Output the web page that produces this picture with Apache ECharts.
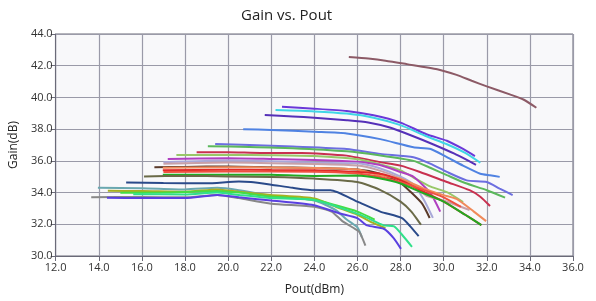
<!DOCTYPE html>
<html><head><meta charset="utf-8">
<script src="https://cdn.jsdelivr.net/npm/echarts@6/dist/echarts.min.js"></script>
<style>html,body{margin:0;padding:0;background:#fff}#c{width:596px;height:301px}</style>
</head><body><div id="c"></div>
<script>
// Axis ticks
const xTicks = [12,14,16,18,20,22,24,26,28,30,32,34,36];
const yTicks = [30,32,34,36,38,40,42,44];

// Curves: [Pout(dBm), Gain(dB)]
const s01 = [[25.6,42.55],[26.5,42.45],[27.3,42.32],[28.3,42.1],[29.7,41.78],[30.6,41.42],[31.3,41.05],[32.0,40.7],[33.1,40.18],[33.7,39.87],[34.3,39.35]];
const s02 = [[22.5,39.41],[24,39.29],[25.5,39.14],[26.75,38.87],[28,38.41],[29.2,37.68],[30.15,37.27],[30.9,36.75],[31.45,36.3]];
const s03 = [[22.2,39.2],[24,39.12],[25.5,38.98],[26.75,38.72],[28,38.25],[29.2,37.55],[30.15,37.05],[31,36.5],[31.7,35.88]];
const s04 = [[21.7,38.89],[23,38.8],[24,38.72],[25.5,38.56],[26.5,38.42],[27.5,38.1],[28.5,37.6],[29.5,37.05],[30.5,36.45],[31.5,35.75]];
const s05 = [[20.7,38.0],[22,37.95],[24,37.83],[25.5,37.73],[27.06,37.37],[28.6,36.86],[29.4,36.75],[30.15,36.23],[30.9,35.7],[31.7,35.19],[32.15,35.09],[32.6,34.99]];
const s06 = [[19.4,37.06],[21,37.0],[23,36.9],[25.5,36.75],[27.06,36.44],[28.6,36.23],[29.4,35.81],[30.15,35.3],[31.07,34.77],[32.0,34.67],[32.6,34.25],[33.2,33.84]];
const s07 = [[19.06,36.92],[21,36.88],[23,36.8],[25.5,36.6],[27,36.35],[28.6,36.0],[29.4,35.55],[30.15,35.1],[31,34.6],[32,34.15],[32.85,33.68]];
const s08 = [[18.54,36.54],[20,36.55],[21.5,36.5],[23.4,36.5],[25.5,36.33],[27.06,35.92],[28,35.7],[28.9,35.3],[30.15,34.67],[31.2,34.15],[31.7,33.74],[32.15,33.15]];
const s09 = [[17.6,36.37],[20,36.37],[22,36.35],[24,36.3],[26,36.1],[27,35.8],[28,35.4],[28.6,34.95],[29.4,34.37],[30.2,34.0],[30.9,33.4]];
const s10 = [[17.2,36.12],[20,36.17],[22,36.12],[24,36.06],[26,35.95],[27,35.75],[28,35.3],[28.6,35.0],[29.4,33.94],[29.84,32.8]];
const s11 = [[17.0,35.92],[20,36.02],[22,35.98],[24,35.88],[26,35.85],[27,35.55],[28,35.0],[28.6,34.5],[29.1,33.5],[29.5,32.4]];
const s12 = [[17.0,35.81],[20,35.9],[24,35.8],[26,35.7],[27,35.4],[28,34.9],[28.6,34.4],[29.2,33.8],[30,33.5],[30.6,33.2],[31.2,32.9]];
const s13 = [[16.58,35.6],[18,35.62],[20,35.65],[22,35.6],[24,35.55],[26,35.45],[27,35.2],[28,34.6],[28.5,34.0],[29,33.3],[29.35,32.4]];
const s14 = [[16.97,35.56],[20,35.6],[22,35.58],[24,35.55],[26,35.45],[27,35.1],[28,34.88],[29,34.3],[30,33.84],[30.6,33.6],[31.4,32.8],[31.97,32.2]];
const s15 = [[16.97,35.4],[20,35.44],[22,35.42],[24,35.4],[26,35.3],[27,35.2],[28,34.78],[29,34.1],[30,33.43],[31,32.6],[31.75,31.95]];
const s16 = [[17.0,35.3],[20,35.33],[24,35.32],[26,35.2],[27,35.0],[28,34.65],[29,34.2],[30,33.7],[30.8,33.1]];
const s17 = [[16.97,35.13],[20,35.13],[22,35.12],[24,35.05],[26,35.08],[27,34.9],[28,34.57],[29,34.0],[30,33.43],[31,32.6],[31.75,31.95]];
const s18 = [[16.1,35.02],[18,35.05],[20,35.02],[22,34.98],[24,34.88],[26,34.67],[27,34.2],[28,33.43],[28.5,32.8],[28.95,31.97]];
const s19 = [[15.27,34.63],[17,34.6],[19,34.58],[20.5,34.7],[21.06,34.67],[22,34.5],[23,34.3],[24,34.15],[24.75,34.15],[26,33.43],[27.06,32.8],[28.07,32.39],[28.45,31.87],[28.84,31.25]];
const s20 = [[13.96,34.3],[16,34.28],[18,34.2],[19.5,34.3],[20.5,34.15],[22,33.8],[24,33.5],[25,32.9],[25.5,32.3],[26,31.8],[26.2,31.2]];
const s21 = [[14.42,34.11],[16,34.1],[18,34.05],[19.5,34.2],[20.5,34.05],[22,33.85],[24,33.63],[25,33.1],[26,32.6],[26.7,32.1],[27.3,31.76]];
const s22 = [[15.0,33.99],[17,34.0],[19.5,34.1],[20.5,34.0],[22,33.75],[24,33.55],[25,33.2],[26,32.8],[26.8,32.3]];
const s23 = [[15.6,33.9],[18,33.88],[19.5,34.0],[20.5,33.85],[22,33.65],[23.97,33.53],[26.14,32.59],[27.22,31.93],[27.7,31.87],[28.07,31.34],[28.53,30.58]];
const s24 = [[13.65,33.71],[16,33.72],[18,33.7],[19.5,33.85],[20.5,33.65],[22,33.3],[24,33.1],[24.8,32.8],[25.3,32.2],[25.9,31.7],[26.1,31.5],[26.37,30.66]];
const s25 = [[14.38,33.67],[16,33.66],[18,33.65],[19.5,33.85],[20.5,33.7],[22,33.5],[23.98,33.2],[25.14,32.7],[25.99,32.39],[26.45,31.93],[27.22,31.72],[27.68,31.13],[28.02,30.45]];

const curves = [s01,s02,s03,s04,s05,s06,s07,s08,s09,s10,s11,s12,s13,s14,s15,s16,s17,s18,s19,s20,s21,s22,s23,s24,s25];
const colors = ['#8c5a66','#6b38d8','#3fd6e6','#5530b8','#4f82e2','#6c6ee0','#5cb85c','#c8304f','#98c868','#b040c0','#a8a8d8','#c8a0a8','#5a3a2a','#f08a5a','#e02828','#f05040','#22aa22','#6a6a48','#2a4a8a','#6aa8b0','#a8b020','#44dd44','#30e08a','#888888','#5a40e0'];

const chart = echarts.init(document.getElementById('c'), null, {renderer:'canvas'});
const fmt = v => v.toFixed(1);
chart.setOption({
  animation:false,
  title:{text:'Gain vs. Pout', left:236, top:3, textStyle:{fontFamily:'Open Sans', fontSize:15, fontWeight:'normal', color:'#222'}},
  grid:{left:54, right:23, top:34, bottom:43, show:true, backgroundColor:'#f8f8fa', borderColor:'#6a6a78', borderWidth:1},
  xAxis:{type:'value', min:xTicks[0], max:xTicks[xTicks.length-1], interval:2,
    name:'Pout(dBm)', nameLocation:'middle', nameGap:28, nameTextStyle:{fontFamily:'Open Sans', fontSize:12, color:'#222'},
    axisLine:{show:true, onZero:false, lineStyle:{color:'#6a6a78'}}, axisTick:{show:true, length:5, lineStyle:{color:'#6a6a78'}},
    axisLabel:{formatter:fmt, margin:6, fontFamily:'Open Sans', fontSize:11, color:'#333'},
    splitLine:{show:true, lineStyle:{color:'#9a9aa8', width:1.2}}},
  yAxis:{type:'value', min:yTicks[0], max:yTicks[yTicks.length-1], interval:2,
    name:'Gain(dB)', nameLocation:'middle', nameGap:35, nameTextStyle:{fontFamily:'Open Sans', fontSize:12, color:'#222'},
    axisLine:{show:true, onZero:false, lineStyle:{color:'#6a6a78'}}, axisTick:{show:true, length:5, lineStyle:{color:'#6a6a78'}},
    axisLabel:{formatter:fmt, margin:3, fontFamily:'Open Sans', fontSize:11, color:'#333'},
    splitLine:{show:true, lineStyle:{color:'#9a9aa8', width:1.2}}},
  series: curves.map((d,i)=>({type:'line', data:d, showSymbol:false, symbol:'none', smooth:0.2,
    lineStyle:{width:2, color:colors[i]}, itemStyle:{color:colors[i]}, z:2}))
});
</script></body></html>
